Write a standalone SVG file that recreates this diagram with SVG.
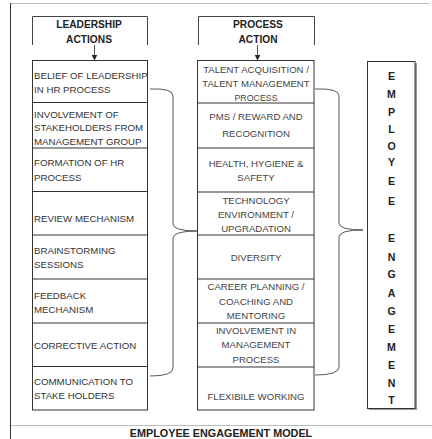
<svg xmlns="http://www.w3.org/2000/svg" width="432" height="439" viewBox="0 0 432 439">
<defs>
<marker id="ah" markerWidth="6" markerHeight="6" refX="5" refY="3" orient="auto" markerUnits="userSpaceOnUse">
<path d="M0,0 L6,3 L0,6 Z" fill="#222"/>
</marker>
<style>
.box{fill:#fff;stroke:#333;stroke-width:1}
.div{stroke:#333;stroke-width:1}
.hdr{fill:none;stroke:#444;stroke-width:1}
.ht{font-family:"Liberation Sans",Arial,sans-serif;font-weight:bold;font-size:10.2px;fill:#222;text-anchor:middle}
.lt{font-family:"Liberation Sans",Arial,sans-serif;font-size:9.7px;fill:#333}
.mt{font-family:"Liberation Sans",Arial,sans-serif;font-size:9.6px;fill:#444;text-anchor:middle}
.vt{font-family:"Liberation Sans",Arial,sans-serif;font-weight:bold;font-size:10.6px;fill:#222;text-anchor:middle}
.con{fill:none;stroke:#444;stroke-width:0.9}
.frame{stroke:#bbb;stroke-width:1}
</style>
</defs>
<rect width="432" height="439" fill="#fff"/>
<g id="frame">
<line class="frame" x1="10" y1="3.5" x2="430" y2="3.5"/>
<line class="frame" x1="10" y1="425.5" x2="432" y2="425.5"/>
<line x1="10.5" y1="3" x2="10.5" y2="439" stroke="#333" stroke-width="1"/>
</g>
<g id="hdr-leadership">
<path class="hdr" d="M32.5,45 V16.5 H147.5 V45"/>
<text class="ht" x="89" y="28">LEADERSHIP</text>
<text class="ht" x="89" y="43">ACTIONS</text>
</g>
<g id="hdr-process">
<path class="hdr" d="M198.5,45 V16.5 H314.5 V45"/>
<text class="ht" x="258" y="28">PROCESS</text>
<text class="ht" x="258" y="43">ACTION</text>
</g>
<g id="leadership-actions">
<rect class="box" x="32.5" y="60.5" width="115" height="349.5"/>
<line class="div" x1="32.5" y1="102.5" x2="147.5" y2="102.5"/>
<line class="div" x1="32.5" y1="148" x2="147.5" y2="148"/>
<line class="div" x1="32.5" y1="191.5" x2="147.5" y2="191.5"/>
<line class="div" x1="32.5" y1="235" x2="147.5" y2="235"/>
<line class="div" x1="32.5" y1="279" x2="147.5" y2="279"/>
<line class="div" x1="32.5" y1="323" x2="147.5" y2="323"/>
<line class="div" x1="32.5" y1="366.5" x2="147.5" y2="366.5"/>
<text class="lt" x="34" y="79">BELIEF OF LEADERSHIP</text>
<text class="lt" x="34" y="92.5">IN HR PROCESS</text>
<text class="lt" x="34" y="117.5">INVOLVEMENT OF</text>
<text class="lt" x="34" y="131">STAKEHOLDERS FROM</text>
<text class="lt" x="34" y="144.5">MANAGEMENT GROUP</text>
<text class="lt" x="34" y="165.5">FORMATION OF HR</text>
<text class="lt" x="34" y="181">PROCESS</text>
<text class="lt" x="34" y="221.5">REVIEW MECHANISM</text>
<text class="lt" x="34" y="253.5">BRAINSTORMING</text>
<text class="lt" x="34" y="267.5">SESSIONS</text>
<text class="lt" x="34" y="298.5">FEEDBACK</text>
<text class="lt" x="34" y="312.5">MECHANISM</text>
<text class="lt" x="34" y="348.5">CORRECTIVE ACTION</text>
<text class="lt" x="34" y="385">COMMUNICATION TO</text>
<text class="lt" x="34" y="399">STAKE HOLDERS</text>
</g>
<g id="process-action">
<rect class="box" x="197.5" y="60.5" width="116.5" height="349.5"/>
<line class="div" x1="197.5" y1="103" x2="314" y2="103"/>
<line class="div" x1="197.5" y1="148" x2="314" y2="148"/>
<line class="div" x1="197.5" y1="192" x2="314" y2="192"/>
<line class="div" x1="197.5" y1="235" x2="314" y2="235"/>
<line class="div" x1="197.5" y1="279" x2="314" y2="279"/>
<line class="div" x1="197.5" y1="323" x2="314" y2="323"/>
<line class="div" x1="197.5" y1="367" x2="314" y2="367"/>
<text class="mt" x="256" y="72.5">TALENT ACQUISITION /</text>
<text class="mt" x="256" y="86.8">TALENT MANAGEMENT</text>
<text class="mt" x="256" y="100.5" style="font-size:8.8px">PROCESS</text>
<text class="mt" x="256" y="120">PMS / REWARD AND</text>
<text class="mt" x="256" y="136.5">RECOGNITION</text>
<text class="mt" x="256" y="166.5">HEALTH,  HYGIENE &amp;</text>
<text class="mt" x="256" y="181">SAFETY</text>
<text class="mt" x="256" y="203.5">TECHNOLOGY</text>
<text class="mt" x="256" y="217.5">ENVIRONMENT /</text>
<text class="mt" x="256" y="231.5">UPGRADATION</text>
<text class="mt" x="256" y="261">DIVERSITY</text>
<text class="mt" x="256" y="290">CAREER PLANNING /</text>
<text class="mt" x="256" y="304.5">COACHING AND</text>
<text class="mt" x="256" y="319">MENTORING</text>
<text class="mt" x="256" y="333.5">INVOLVEMENT IN</text>
<text class="mt" x="256" y="348">MANAGEMENT</text>
<text class="mt" x="256" y="362.5">PROCESS</text>
<text class="mt" x="256" y="400">FLEXIBILE WORKING</text>
</g>
<g id="employee-engagement">
<rect x="369" y="63" width="48" height="347" fill="#999"/>
<rect class="box" x="367.5" y="61.5" width="47.5" height="347"/>
<text class="vt" x="391.5" y="79.5">E</text>
<text class="vt" x="391.5" y="98">M</text>
<text class="vt" x="391.5" y="116">P</text>
<text class="vt" x="391.5" y="133">L</text>
<text class="vt" x="391.5" y="150">O</text>
<text class="vt" x="391.5" y="166">Y</text>
<text class="vt" x="391.5" y="185">E</text>
<text class="vt" x="391.5" y="205">E</text>
<text class="vt" x="391.5" y="242">E</text>
<text class="vt" x="391.5" y="261">N</text>
<text class="vt" x="391.5" y="278">G</text>
<text class="vt" x="391.5" y="297">A</text>
<text class="vt" x="391.5" y="315">G</text>
<text class="vt" x="391.5" y="333">E</text>
<text class="vt" x="391.5" y="351">M</text>
<text class="vt" x="391.5" y="369">E</text>
<text class="vt" x="391.5" y="387">N</text>
<text class="vt" x="391.5" y="404">T</text>
</g>
<g id="connectors">
<line class="con" x1="94.5" y1="45" x2="94.5" y2="59.5" marker-end="url(#ah)"/>
<line class="con" x1="257.5" y1="45" x2="257.5" y2="59.5" marker-end="url(#ah)"/>
<path class="con" d="M150,89 Q173,88 173,96 L173,224 Q173,231 198,231 Q173,231 173,238 L173,368 Q173,376 150,376"/>
<path class="con" d="M315,89 Q339,88 339,96 L339,223 Q339,230 363,230 Q339,230 339,237 L339,367 Q339,375 315,375"/>
</g>
<g id="title">
<text x="221" y="437" style="font-family:'Liberation Sans',Arial,sans-serif;font-weight:bold;font-size:10.8px;fill:#222;text-anchor:middle">EMPLOYEE  ENGAGEMENT MODEL</text>
</g>
</svg>
